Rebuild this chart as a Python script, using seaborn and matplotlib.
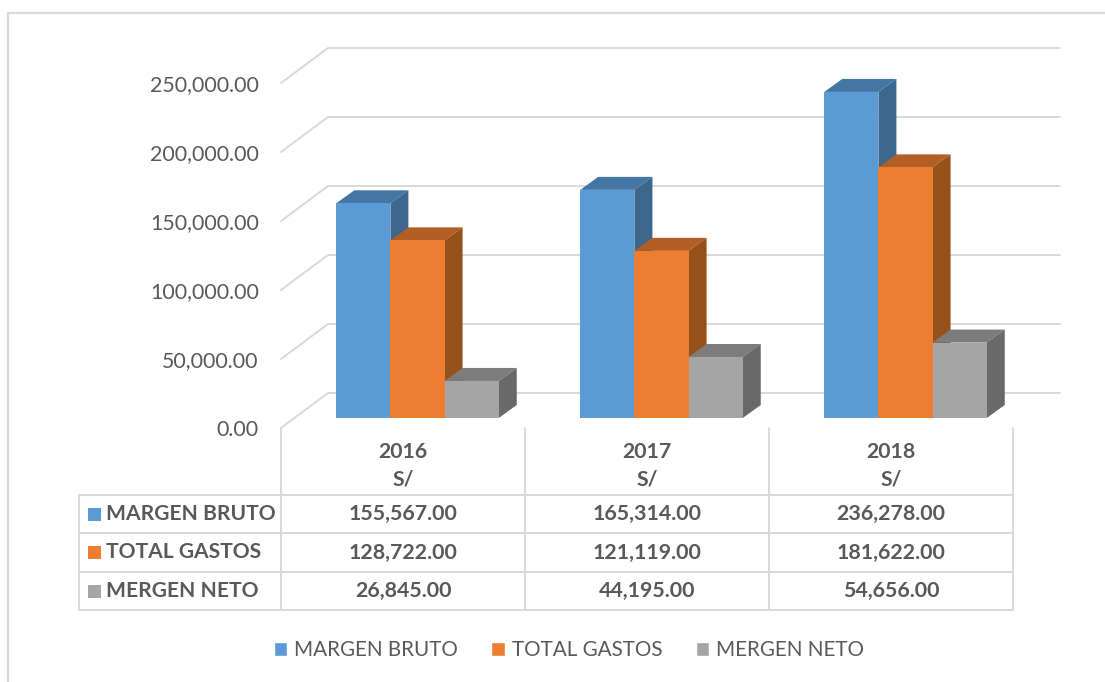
import matplotlib
matplotlib.use("Agg")
import matplotlib.pyplot as plt
from matplotlib.patches import Polygon, Rectangle
import pandas as pd
import seaborn as sns

# data
years = ["2016", "2017", "2018"]
unit = "S/"
series_names = ["MARGEN BRUTO", "TOTAL GASTOS", "MERGEN NETO"]
margen_bruto = [155567.00, 165314.00, 236278.00]
total_gastos = [128722.00, 121119.00, 181622.00]
mergen_neto = [26845.00, 44195.00, 54656.00]
y_ticks = [0, 50000, 100000, 150000, 200000, 250000]

colors = ["#5B9BD5", "#ED7D31", "#A5A5A5"]
top_colors = ["#4476A3", "#B35E25", "#7C7C7C"]
side_colors = ["#3B668D", "#965019", "#696969"]
text_color = "#595959"
line_color = "#D9D9D9"

W, H = 1105, 682

sns.set_theme(style="white")
plt.rcParams["font.family"] = ["Lato", "DejaVu Sans"]

df = pd.DataFrame({
    "year": years * 3,
    "serie": [s for s in series_names for _ in years],
    "valor": margen_bruto + total_gastos + mergen_neto,
})

fig = plt.figure(figsize=(W / 100, H / 100), dpi=100, facecolor="white")

# background layer in pixels: outer frame and the table under the chart
bg = fig.add_axes([0, 0, 1, 1], zorder=0)
bg.set_xlim(0, W)
bg.set_ylim(H, 0)
bg.axis("off")

bg.plot([8, 8, W], [H, 13, 13], color=line_color, lw=1.6)

cols = [281, 525, 769, 1013]
rows = [495, 533, 572, 610]
for x in cols:
    bg.plot([x, x], [428, 610], color=line_color, lw=1.4)
bg.plot([79, 79], [495, 610], color=line_color, lw=1.4)
for y in rows:
    bg.plot([79, 1013], [y, y], color=line_color, lw=1.4)

for i, year in enumerate(years):
    xc = (cols[i] + cols[i + 1]) / 2
    bg.text(xc, 452, year, ha="center", va="center", fontsize=15.3,
            fontweight="bold", color=text_color)
    bg.text(xc, 480, unit, ha="center", va="center", fontsize=15.3,
            fontweight="bold", color=text_color)

table_values = [margen_bruto, total_gastos, mergen_neto]
for r, (name, vals) in enumerate(zip(series_names, table_values)):
    yc = (rows[r] + rows[r + 1]) / 2
    bg.add_patch(Rectangle((88, yc - 6.5), 13, 13, color=colors[r], lw=0))
    bg.text(106, yc, name, ha="left", va="center", fontsize=15.1,
            fontweight="bold", color=text_color)
    for i, v in enumerate(vals):
        xc = (cols[i] + cols[i + 1]) / 2
        bg.text(xc, yc, f"{v:,.2f}", ha="center", va="center", fontsize=15.4,
                fontweight="bold", color=text_color)

# main axes, 0 sits on the front edge of the floor
ax = fig.add_axes([281 / W, 1 - 428 / H, 732 / W, 345 / H], zorder=1)
ax.patch.set_alpha(0)

px_x = 1 / 244
px_y = 250000 / 345
floor_lift = 10 * px_y

sns.barplot(data=df, x="year", y="valor", hue="serie", order=years,
            hue_order=series_names, palette=colors, width=0.666, gap=0,
            saturation=1, errorbar=None, ax=ax)

shift = 14.5 * px_x
ax.set_xlim(-0.5 - shift, 2.5 - shift)
ax.set_ylim(0, 250000)

# back wall gridlines and side wall diagonals
x_front = ax.get_xlim()[0]
x_back = x_front + 47 * px_x
x_end = x_front + 779 * px_x
back_lift = 35 * px_y
for t in y_ticks:
    ax.plot([x_front, x_back, x_end], [t, t + back_lift, t + back_lift],
            color=line_color, lw=1.4, clip_on=False, zorder=1)

# fake 3d depth on each bar, bars stand a bit behind the front edge
dx = 18 * px_x
dy = 13 * px_y
for k, cont in enumerate(ax.containers):
    z = 3 + k * 2
    for bar in cont:
        bar.set_y(floor_lift)
        x0, w = bar.get_x(), bar.get_width()
        y0, h = bar.get_y(), bar.get_height()
        x1, y1 = x0 + w, y0 + h
        bar.set_zorder(z + 1)
        bar.set_linewidth(0)
        bar.set_clip_on(False)
        ax.add_patch(Polygon([(x0, y1), (x1, y1), (x1 + dx, y1 + dy), (x0 + dx, y1 + dy)],
                             closed=True, fc=top_colors[k], ec="none", zorder=z, clip_on=False))
        ax.add_patch(Polygon([(x1, y0), (x1 + dx, y0 + dy), (x1 + dx, y1 + dy), (x1, y1)],
                             closed=True, fc=side_colors[k], ec="none", zorder=z, clip_on=False))

ax.set_yticks(y_ticks)
ax.set_yticklabels([f"{t:,.2f}" for t in y_ticks], fontsize=15.4, color=text_color)
ax.tick_params(axis="y", length=0, pad=16)
ax.set_xticks([])
ax.set_xlabel("")
ax.set_ylabel("")
sns.despine(ax=ax, left=True, bottom=True)

sns.move_legend(ax, "center", bbox_to_anchor=(569 / W, 1 - 650.5 / H),
                bbox_transform=fig.transFigure, ncol=3, frameon=False, title=None,
                fontsize=14.9, handlelength=0.65, handleheight=0.65,
                handletextpad=0.34, columnspacing=1.62)
for txt in ax.get_legend().get_texts():
    txt.set_color(text_color)

fig.savefig("out.png", dpi=100)
